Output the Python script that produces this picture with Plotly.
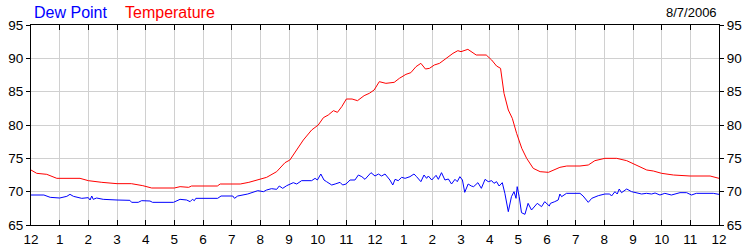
import plotly.graph_objects as go

# Hours since midnight (0..24) and readings
temp_hours = [0, 0.2, 0.55, 0.9, 1.71, 2.0, 2.47, 3.0, 3.5, 3.9, 4.21, 5.0, 5.2, 5.4, 5.5, 5.6,
              6.5, 6.6, 7.3, 7.6, 7.9, 8.22, 8.57, 8.86, 9.03, 9.27, 9.5, 9.79, 10.02, 10.2,
              10.37, 10.55, 10.69, 10.84, 11.0, 11.2, 11.39, 11.62, 11.8, 11.97, 12.15, 12.38,
              12.67, 12.85, 13.08, 13.25, 13.43, 13.6, 13.76, 13.9, 14.07, 14.25, 14.48, 14.72,
              14.89, 15.0, 15.24, 15.53, 15.88, 16.07, 16.24, 16.38, 16.5, 16.65, 16.79, 16.94,
              17.12, 17.29, 17.52, 17.76, 18.05, 18.45, 18.69, 19.15, 19.44, 19.67, 20.02,
              20.43, 20.78, 21.13, 21.48, 21.71, 22.0, 22.41, 22.99, 23.69, 24.0]
temp_values = [73.25, 72.75, 72.6, 72.0, 72.0, 71.65, 71.4, 71.2, 71.2, 70.9, 70.55, 70.55, 70.75,
               70.75, 70.65, 70.85, 70.85, 71.15, 71.15, 71.4, 71.75, 72.15, 73.0, 74.35, 74.75,
               76.25, 77.75, 79.25, 80.0, 81.1, 81.5, 82.15, 81.9, 82.75, 83.9, 83.9, 83.65, 84.4,
               84.75, 85.25, 86.5, 86.25, 86.4, 87.0, 87.6, 87.85, 88.75, 89.25, 88.4, 88.5, 89.0,
               89.25, 90.0, 90.75, 91.15, 91.0, 91.35, 90.5, 90.5, 89.75, 88.85, 88.5, 84.75,
               82.25, 81.0, 78.75, 76.5, 75.0, 73.5, 73.0, 72.9, 73.65, 73.85, 73.85, 74.0, 74.65,
               75.0, 75.0, 74.65, 73.9, 73.25, 73.1, 72.75, 72.5, 72.35, 72.35, 72.0]

dew_hours = [0, 0.45, 0.67, 1.0, 1.25, 1.36, 1.48, 1.77, 2.0, 2.06, 2.12, 2.17, 2.29, 2.52, 3.0,
             3.45, 3.51, 3.74, 3.86, 4.15, 4.24, 4.97, 5.2, 5.43, 5.55, 5.63, 5.7, 5.75, 6.51,
             6.63, 7.04, 7.1, 7.21, 7.56, 7.91, 8.11, 8.22, 8.39, 8.57, 8.66, 8.78, 8.92, 9.15,
             9.27, 9.44, 9.79, 9.91, 9.99, 10.11, 10.22, 10.31, 10.49, 10.61, 10.78, 10.87,
             10.99, 11.13, 11.3, 11.42, 11.54, 11.65, 11.86, 12.0, 12.12, 12.23, 12.35, 12.52,
             12.62, 12.7, 12.81, 12.93, 13.05, 13.22, 13.36, 13.45, 13.6, 13.71, 13.8, 13.86,
             13.98, 14.13, 14.21, 14.32, 14.44, 14.56, 14.67, 14.79, 14.87, 14.96, 15.05, 15.13,
             15.25, 15.36, 15.44, 15.59, 15.71, 15.84, 15.95, 16.07, 16.15, 16.24, 16.33, 16.44,
             16.53, 16.65, 16.76, 16.85, 16.92, 16.96, 17.03, 17.11, 17.23, 17.34, 17.46, 17.58,
             17.66, 17.81, 17.92, 18.08, 18.12, 18.27, 18.39, 18.45, 18.51, 18.68, 19.15, 19.26,
             19.44, 19.56, 19.79, 20.02, 20.19, 20.25, 20.37, 20.45, 20.52, 20.6, 20.78, 20.95,
             21.3, 21.47, 21.65, 21.77, 21.94, 22.11, 22.34, 22.64, 22.87, 23.04, 23.21, 23.8, 24.0]
dew_values = [69.5, 69.5, 69.15, 69.05, 69.3, 69.6, 69.3, 69.0, 69.1, 68.75, 69.35, 68.85, 69.05,
              68.85, 68.75, 68.7, 68.4, 68.4, 68.65, 68.6, 68.4, 68.4, 68.85, 68.75, 68.5, 68.85,
              68.65, 69.0, 69.0, 69.35, 69.35, 69.0, 69.35, 69.65, 70.15, 70.0, 70.25, 70.45,
              70.35, 70.85, 70.5, 70.9, 71.35, 71.15, 71.65, 71.65, 72.0, 71.75, 72.65, 71.75,
              71.5, 71.0, 71.15, 71.4, 71.0, 71.15, 71.75, 71.75, 72.5, 72.25, 71.85, 72.85,
              72.35, 72.65, 72.35, 72.65, 71.75, 71.0, 71.85, 71.65, 72.15, 72.0, 72.25, 72.65,
              72.25, 71.5, 72.5, 72.0, 72.35, 71.75, 72.45, 71.85, 72.85, 71.75, 71.9, 71.15,
              71.85, 71.5, 72.25, 71.75, 69.9, 71.15, 70.85, 70.75, 71.35, 70.5, 71.85, 71.5,
              71.65, 71.25, 71.5, 70.85, 71.35, 69.75, 67.0, 69.25, 70.0, 69.0, 70.75, 69.25,
              66.85, 66.6, 68.25, 67.25, 67.85, 68.25, 67.75, 68.5, 67.85, 68.25, 68.5, 68.75,
              69.65, 69.25, 69.75, 69.75, 69.35, 68.4, 69.0, 69.4, 69.65, 69.65, 69.35, 70.0,
              69.65, 70.4, 69.85, 70.4, 70.0, 69.65, 69.75, 69.65, 69.8, 69.5, 69.75, 69.5, 69.85,
              69.85, 69.5, 69.75, 69.75, 69.6]

tick_hours = list(range(25))
tick_labels = ["12", "1", "2", "3", "4", "5", "6", "7", "8", "9", "10", "11",
               "12", "1", "2", "3", "4", "5", "6", "7", "8", "9", "10", "11", "12"]
y_ticks = [65, 70, 75, 80, 85, 90, 95]

FONT = "Liberation Sans, Arial, sans-serif"

fig = go.Figure()
fig.add_trace(go.Scatter(x=dew_hours, y=dew_values, mode="lines",
                         line=dict(color="#0000FF", width=1), name="Dew Point"))
fig.add_trace(go.Scatter(x=temp_hours, y=temp_values, mode="lines",
                         line=dict(color="#FF0000", width=1), name="Temperature"))
# invisible trace to activate right axis
fig.add_trace(go.Scatter(x=[0], y=[65], yaxis="y2", mode="markers",
                         marker=dict(opacity=0), showlegend=False, hoverinfo="skip"))

fig.update_layout(
    width=750, height=250,
    margin=dict(l=31, r=31, t=25, b=25, pad=0, autoexpand=False),
    paper_bgcolor="white", plot_bgcolor="white",
    showlegend=False,
    font=dict(family=FONT, size=13, color="black"),
    xaxis=dict(range=[0, 24], tickvals=tick_hours, ticktext=tick_labels,
               ticks="inside", ticklen=5, tickcolor="black", tickwidth=1,
               ticklabelstandoff=2, automargin=False,
               showline=True, linecolor="black", linewidth=1, mirror="ticks",
               showgrid=True, gridcolor="#D0D0D0", gridwidth=1, zeroline=False,
               tickfont=dict(family=FONT, size=13.5, color="black")),
    yaxis=dict(range=[65, 95], tickvals=y_ticks, automargin=False,
               ticks="outside", ticklen=4, tickcolor="black",
               showline=True, linecolor="black", linewidth=1, mirror="ticks",
               showgrid=True, gridcolor="#D0D0D0", gridwidth=1, zeroline=False,
               tickfont=dict(family=FONT, size=13.5, color="black")),
    yaxis2=dict(range=[65, 95], tickvals=y_ticks, overlaying="y", side="right",
                automargin=False,
                ticks="outside", ticklen=4, tickcolor="black",
                showline=False, showgrid=False, zeroline=False,
                tickfont=dict(family=FONT, size=13.5, color="black")),
    annotations=[
        dict(text="Dew Point", x=(32 - 31) / 688, y=(225 - 12) / 200, xref="paper", yref="paper",
             xanchor="left", yanchor="middle", showarrow=False,
             font=dict(family=FONT, size=16, color="#0000FF")),
        dict(text="Temperature", x=(123 - 31) / 688, y=(225 - 12) / 200, xref="paper", yref="paper",
             xanchor="left", yanchor="middle", showarrow=False,
             font=dict(family=FONT, size=16, color="#FF0000")),
        dict(text="8/7/2006", x=(719 - 31) / 688, y=(225 - 13) / 200, xref="paper", yref="paper",
             xanchor="right", yanchor="middle", showarrow=False,
             font=dict(family=FONT, size=13, color="black")),
    ],
)

fig.write_html("out.html")
